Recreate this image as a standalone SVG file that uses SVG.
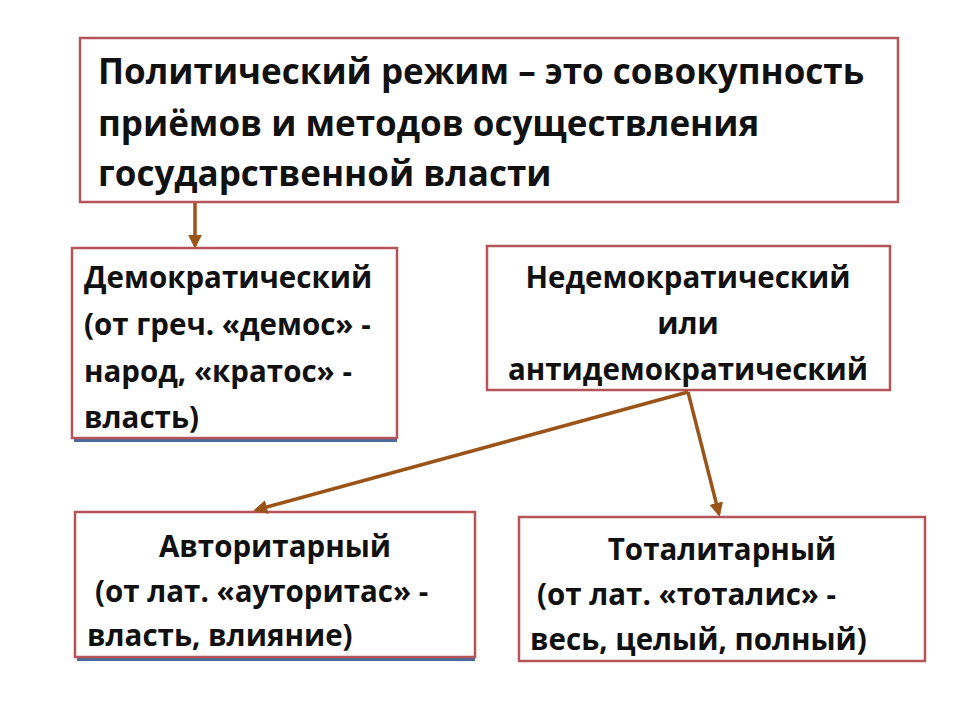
<svg xmlns="http://www.w3.org/2000/svg" width="960" height="720" viewBox="0 0 960 720">
<defs>
<style>
.box{fill:#fff;stroke:#b5555a;stroke-width:2.5}
.sh{fill:#4a6a9a}
text{font-family:"Open Sans","Liberation Sans",sans-serif;font-weight:bold;font-size:29.5px;fill:#111}
.big{font-size:35px}
.c{stroke:#9a5418;stroke-width:3.5;fill:none}
</style>
<marker id="a" viewBox="0 0 10 10" refX="8" refY="5" markerWidth="4" markerHeight="4" orient="auto"><path d="M0,0L10,5L0,10z" fill="#9a5418"/></marker>
</defs>
<rect width="960" height="720" fill="#fff"/>
<g id="n0"><rect class="box" x="80" y="38" width="818" height="164"/>
<text class="big" x="98" y="84">Политический режим – это совокупность</text>
<text class="big" x="98" y="136">приёмов и методов осуществления</text>
<text class="big" x="98" y="186">государственной власти</text></g>
<g id="n1"><rect class="sh" x="74" y="436" width="323" height="6"/><rect class="box" x="72" y="248" width="325" height="190"/>
<text x="84" y="288">Демократический</text>
<text x="84" y="335">(от греч. «демос» -</text>
<text x="84" y="382">народ, «кратос» -</text>
<text x="84" y="428">власть)</text></g>
<g id="n2"><rect class="box" x="487" y="246" width="403" height="144"/>
<text x="688" y="288" text-anchor="middle">Недемократический</text>
<text x="688" y="334" text-anchor="middle">или</text>
<text x="688" y="380" text-anchor="middle">антидемократический</text></g>
<g id="n3"><rect class="sh" x="77" y="655" width="398" height="6"/><rect class="box" x="75" y="512" width="400" height="145"/>
<text x="275" y="557" text-anchor="middle">Авторитарный</text>
<text x="95" y="602">(от лат. «ауторитас» -</text>
<text x="87" y="646">власть, влияние)</text></g>
<g id="n4"><rect class="box" x="519" y="517" width="406" height="144"/>
<text x="722" y="560" text-anchor="middle">Тоталитарный</text>
<text x="537" y="605">(от лат. «тоталис» -</text>
<text x="530" y="650">весь, целый, полный)</text></g>
<g id="connectors">
<path class="c" d="M195,203V246" marker-end="url(#a)"/>
<path class="c" d="M688,392L256,510" marker-end="url(#a)"/>
<path class="c" d="M688,392L719,514" marker-end="url(#a)"/>
</g>
</svg>
